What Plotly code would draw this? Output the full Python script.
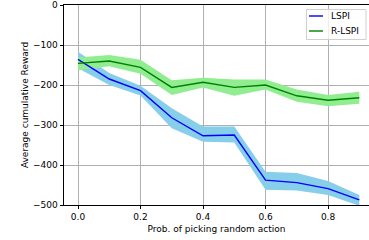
import plotly.graph_objects as go

x = [0.0, 0.1, 0.2, 0.3, 0.4, 0.5, 0.6, 0.7, 0.8, 0.9]
lspi_mean = [-136, -185, -214, -282, -327, -325, -438, -444, -459, -487]
lspi_upper = [-117, -170, -202, -258, -304, -304, -417, -420, -440, -475]
lspi_lower = [-158, -200, -226, -308, -342, -344, -462, -464, -475, -502]
rlspi_mean = [-146, -140, -156, -206, -193, -206, -200, -227, -238, -232]
rlspi_upper = [-131, -125, -137, -188, -182, -186, -186, -211, -225, -217]
rlspi_lower = [-163, -153, -172, -225, -206, -227, -211, -242, -253, -247]
series_names = ["LSPI", "R-LSPI"]
line_colors = ["#0000ff", "#008000"]
fill_colors = ["#87CEEB", "#90EE90"]

W, H = 369, 240
ML, MR, MT, MB = 64, 0, 5, 35
PW, PH = W - ML - MR, H - MT - MB

fig = go.Figure()

def band(upper, lower, color):
    fig.add_trace(go.Scatter(x=x, y=upper, mode="lines", line=dict(width=0),
                             showlegend=False, hoverinfo="skip"))
    fig.add_trace(go.Scatter(x=x, y=lower, mode="lines", line=dict(width=0),
                             fill="tonexty", fillcolor=color,
                             showlegend=False, hoverinfo="skip"))

band(lspi_upper, lspi_lower, fill_colors[0])
band(rlspi_upper, rlspi_lower, fill_colors[1])

for name, ys, col in zip(series_names, [lspi_mean, rlspi_mean], line_colors):
    fig.add_trace(go.Scatter(x=x, y=ys, mode="lines", name=name,
                             line=dict(color=col, width=1.4), showlegend=False))

# custom matplotlib-like legend (pixel -> paper conversion)
def px(v):
    return (v - ML) / PW

def py(v):
    return (H - MB - v) / PH

fig.add_shape(type="rect", xref="paper", yref="paper",
              x0=px(306.5), x1=px(366), y0=py(39.5), y1=py(9.5),
              line=dict(color="#d0d0d0", width=1), fillcolor="rgba(255,255,255,0.8)")
for i, (name, col) in enumerate(zip(series_names, line_colors)):
    yy = 16 + 15 * i
    fig.add_shape(type="line", xref="paper", yref="paper",
                  x0=px(309), x1=px(323), y0=py(yy), y1=py(yy),
                  line=dict(color=col, width=1.4))
    fig.add_annotation(xref="paper", yref="paper", x=px(329), y=py(yy),
                       xanchor="left", yanchor="middle", text=name,
                       showarrow=False, font=dict(size=9, color="black"))

axis_common = dict(showgrid=True, gridcolor="#b0b0b0", gridwidth=0.8,
                   showline=True, linecolor="black", linewidth=0.9,
                   ticks="outside", ticklen=3.5, tickcolor="black", tickwidth=0.9,
                   zeroline=False, tickfont=dict(size=9, color="black"))

fig.update_layout(
    width=W, height=H,
    margin=dict(l=ML, r=MR, t=MT, b=MB),
    plot_bgcolor="white", paper_bgcolor="white",
    font=dict(family="DejaVu Sans", size=9, color="black"),
    showlegend=False,
    xaxis=dict(range=[-0.0448, 0.931], tickvals=[0.0, 0.2, 0.4, 0.6, 0.8],
               ticktext=["0.0", "0.2", "0.4", "0.6", "0.8"], mirror=True,
               title=dict(text="Prob. of picking random action", standoff=4,
                          font=dict(size=9)),
               **axis_common),
    yaxis=dict(range=[-500, 0], tickvals=[0, -100, -200, -300, -400, -500],
               ticktext=["0", "\u2212100", "\u2212200", "\u2212300", "\u2212400", "\u2212500"],
               title=dict(text="Average cumulative Reward", standoff=2,
                          font=dict(size=9)),
               **axis_common),
)

fig.write_html("out.html", config={"displayModeBar": False},
               post_script="document.body.style.margin='0';document.body.style.overflow='hidden';")
